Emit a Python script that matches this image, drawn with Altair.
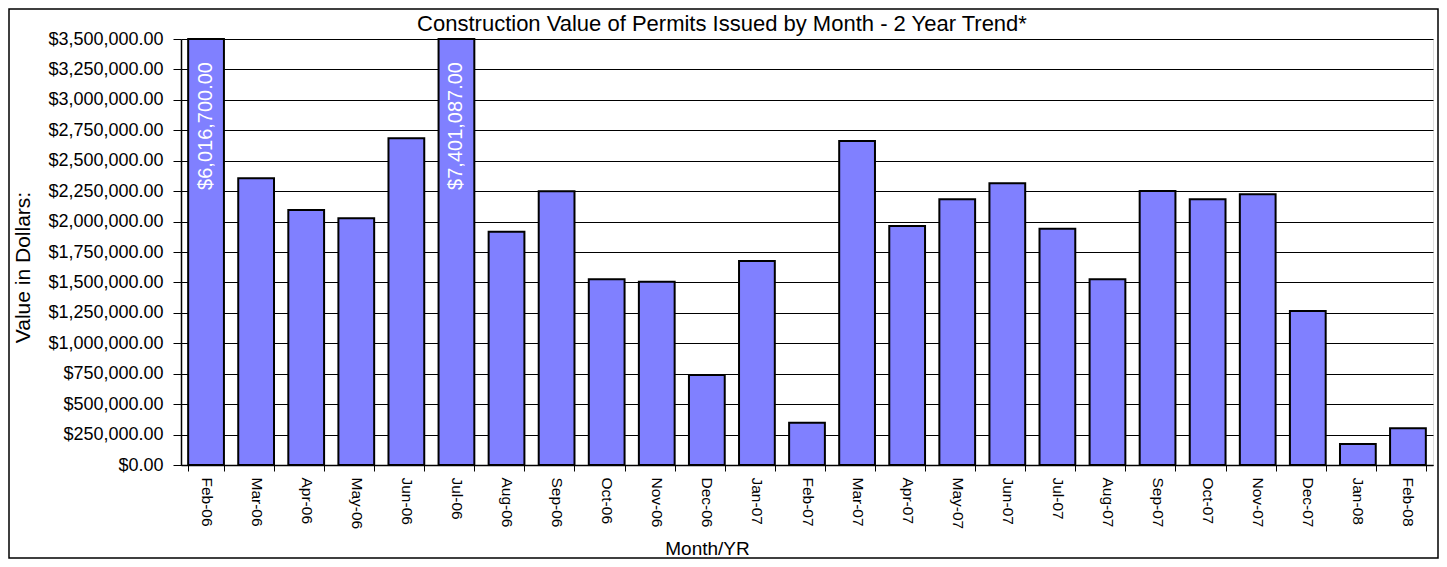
import altair as alt
import pandas as pd

months = ["Feb-06", "Mar-06", "Apr-06", "May-06", "Jun-06", "Jul-06", "Aug-06",
          "Sep-06", "Oct-06", "Nov-06", "Dec-06", "Jan-07", "Feb-07", "Mar-07",
          "Apr-07", "May-07", "Jun-07", "Jul-07", "Aug-07", "Sep-07", "Oct-07",
          "Nov-07", "Dec-07", "Jan-08", "Feb-08"]
values = [6016700, 2356000, 2095000, 2027000, 2684000, 7401087, 1917000,
          2250000, 1526000, 1506000, 740000, 1676000, 348000, 2662000,
          1964000, 2183000, 2315000, 1942000, 1526000, 2251000, 2183000,
          2224000, 1265000, 173000, 302000]
y_ticks = [i * 250000 for i in range(15)]
y_max = 3500000
title_text = "Construction Value of Permits Issued by Month - 2 Year Trend*"

df = pd.DataFrame({"month": months, "value": values})

W, H = 1252, 426
PL, PT, PR, PB = 173, 31, 6, 94
FONT = "Liberation Sans"

x_enc = alt.X("month:N", sort=months,
              scale=alt.Scale(paddingInner=0.2857, paddingOuter=0.143),
              axis=alt.Axis(title="Month/YR", labelAngle=90, labelAlign="left",
                            labelBaseline="middle", labelFontSize=15.5, labelFont=FONT,
                            labelColor="black", labelPadding=6,
                            tickBand="extent", tickSize=6, tickColor="black",
                            domainColor="black", domainWidth=1.5,
                            titleFont=FONT, titleFontSize=19, titleFontWeight="normal",
                            titleColor="black", titleX=526, titleY=83,
                            titleBaseline="middle", titleAlign="center"))
y_enc = alt.Y("value:Q",
              scale=alt.Scale(domain=[0, y_max], clamp=True, nice=False),
              axis=alt.Axis(title="Value in Dollars:", values=y_ticks, format="$,.2f",
                            labelOverlap=False,
                            labelFontSize=18, labelFont=FONT, labelColor="black",
                            labelPadding=10, tickSize=8, tickColor="black",
                            domainColor="black", domainWidth=1.5,
                            grid=True, gridColor="black", gridWidth=1,
                            titleFont=FONT, titleFontSize=21, titleFontWeight="normal",
                            titleColor="black", titleX=-158, titleY=228,
                            titleAngle=270, titleBaseline="middle", titleAlign="center"))

bars = alt.Chart(df).mark_bar(color="#8080FF", stroke="black", strokeWidth=2).encode(
    x=x_enc, y=y_enc)

labels = alt.Chart(df).transform_filter(alt.datum.value > y_max).mark_text(
    angle=270, align="right", baseline="middle", dx=-23, fontSize=20,
    font=FONT, color="white").encode(
    x=x_enc, y=y_enc,
    text=alt.Text("value:Q", format="$,.2f"))

frame = alt.Chart(pd.DataFrame({"f": [0]})).mark_rect(
    fill="transparent", stroke="black", strokeWidth=1.5).encode(
    x=alt.value(-PL + 1), x2=alt.value(W + PR - 1),
    y=alt.value(-PT + 1), y2=alt.value(H + PB - 1))

title = alt.Chart(pd.DataFrame({"t": [title_text]})).mark_text(
    font=FONT, fontSize=22, color="black", align="center",
    baseline="alphabetic").encode(
    x=alt.value(541), y=alt.value(-8), text="t:N")

chart = alt.layer(frame, bars, labels, title).properties(
    width=W, height=H,
    autosize=alt.AutoSizeParams(type="none"),
    padding={"left": PL, "top": PT, "right": PR, "bottom": PB},
).configure_view(fill="#C0C0C0", stroke="#808080", strokeWidth=2
).configure(background="white")

chart.save("out.html", embed_options={"renderer": "svg", "actions": False})
